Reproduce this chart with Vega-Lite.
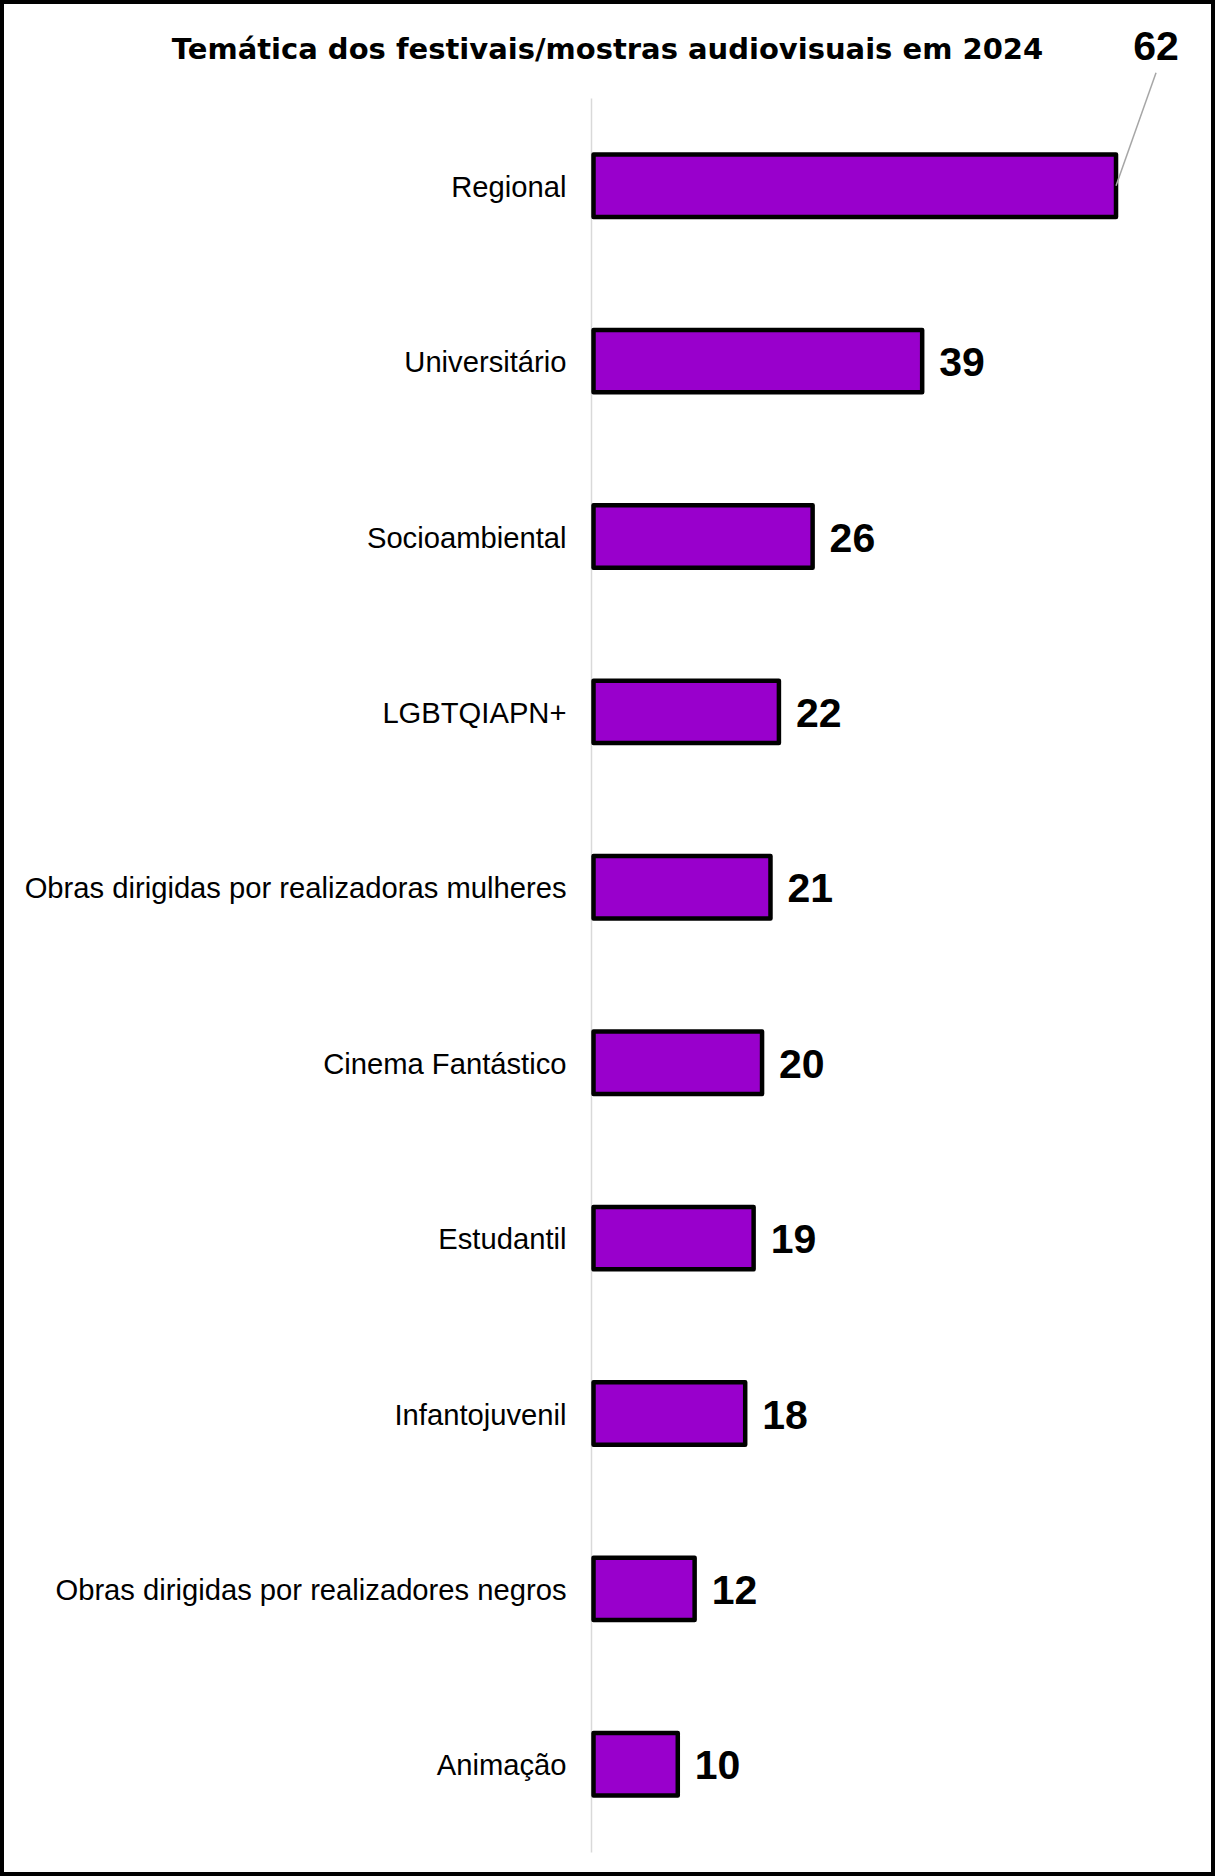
{
  "$schema": "https://vega.github.io/schema/vega-lite/v6.json",
  "width": 1215,
  "height": 1876,
  "autosize": {"type": "none"},
  "padding": 0,
  "background": "white",
  "title": {
    "text": "Temática dos festivais/mostras audiovisuais em 2024",
    "anchor": "middle",
    "frame": "group",
    "orient": "top",
    "baseline": "alphabetic",
    "offset": -88,
    "font": "DejaVu Sans",
    "fontSize": 29,
    "fontWeight": "bold",
    "color": "black"
  },
  "data": {
    "values": [
      {"tema": "Regional", "qtd": 62},
      {"tema": "Universitário", "qtd": 39},
      {"tema": "Socioambiental", "qtd": 26},
      {"tema": "LGBTQIAPN+", "qtd": 22},
      {"tema": "Obras dirigidas por realizadoras mulheres", "qtd": 21},
      {"tema": "Cinema Fantástico", "qtd": 20},
      {"tema": "Estudantil", "qtd": 19},
      {"tema": "Infantojuvenil", "qtd": 18},
      {"tema": "Obras dirigidas por realizadores negros", "qtd": 12},
      {"tema": "Animação", "qtd": 10}
    ]
  },
  "encoding": {
    "y": {
      "field": "tema",
      "type": "nominal",
      "sort": null,
      "title": null,
      "scale": {"range": [98, 1852], "paddingInner": 0.644, "paddingOuter": 0.322},
      "axis": {
        "offset": -591,
        "domainColor": "#d9d9d9",
        "domainWidth": 1.5,
        "ticks": false,
        "tickSize": 0,
        "labelPadding": 25,
        "labelOffset": 2,
        "labelLimit": 0,
        "labelFont": "Liberation Sans",
        "labelFontSize": 29.2,
        "labelColor": "black",
        "grid": false
      }
    },
    "x": {
      "field": "qtd",
      "type": "quantitative",
      "axis": null,
      "scale": {"domain": [0, 72], "range": [593.5, 1200.3], "nice": false, "zero": true}
    }
  },
  "layer": [
    {
      "mark": {"type": "bar", "fill": "#9900cc", "stroke": "black", "strokeWidth": 4.5, "strokeJoin": "round"}
    },
    {
      "transform": [{"filter": "datum.tema !== 'Regional'"}],
      "mark": {"type": "text", "align": "left", "baseline": "middle", "dx": 17, "dy": 3, "font": "Liberation Sans", "fontSize": 41, "fontWeight": "bold", "color": "black"},
      "encoding": {"text": {"field": "qtd", "type": "quantitative"}}
    },
    {
      "transform": [{"filter": "datum.tema === 'Regional'"}],
      "mark": {"type": "rule", "color": "#a6a6a6", "strokeWidth": 1.5, "x2Offset": 40, "y2Offset": -113},
      "encoding": {
        "y": {"field": "tema", "type": "nominal", "sort": null, "bandPosition": 0.5},
        "y2": {"field": "tema", "bandPosition": 0.5},
        "x2": {"field": "qtd"}
      }
    },
    {
      "transform": [{"filter": "datum.tema === 'Regional'"}],
      "mark": {"type": "text", "align": "center", "baseline": "middle", "dx": 40, "dy": -138, "font": "Liberation Sans", "fontSize": 41, "fontWeight": "bold", "color": "black"},
      "encoding": {"text": {"field": "qtd", "type": "quantitative"}}
    }
  ],
  "config": {
    "font": "Liberation Sans",
    "view": {"stroke": "black", "strokeWidth": 8}
  }
}
